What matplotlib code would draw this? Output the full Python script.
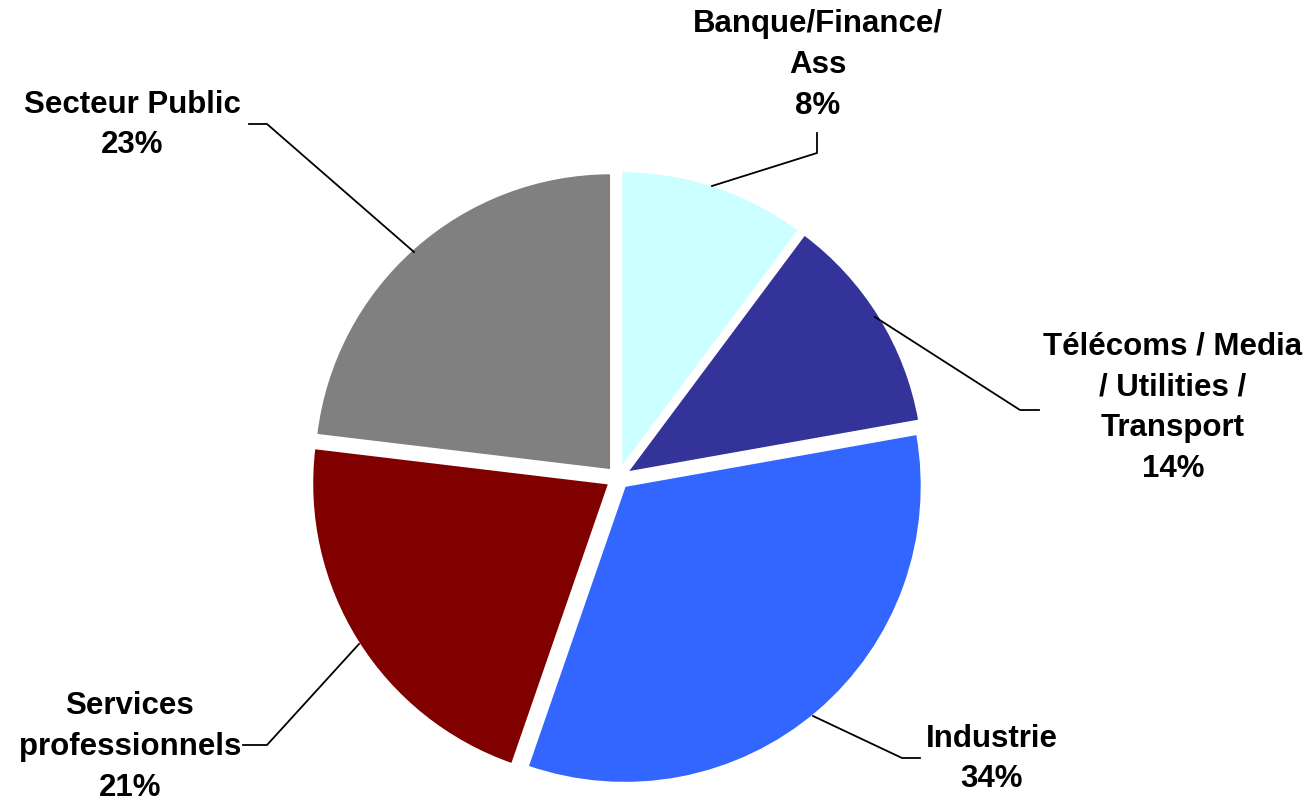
import matplotlib
matplotlib.use("Agg")
import matplotlib.pyplot as plt

# Sector shares (slice sizes as drawn) and the printed labels
sectors = ["Banque/Finance/\nAss", "Télécoms / Media\n/ Utilities /\nTransport",
           "Industrie", "Services\nprofessionnels", "Secteur Public"]
shares = [10.2, 12.0, 33.1, 21.6, 23.1]
pct_labels = ["8%", "14%", "34%", "21%", "23%"]
colors = ["#CCFFFF", "#333399", "#3366FF", "#800000", "#808080"]

W, H = 1310, 802
CX, CY, R = 618, 478, 297   # pie centre / radius in pixels


def px(x, y):
    # pixel position (top-left origin) -> data units (radius = 1)
    return (x - CX) / R, (CY - y) / R


plt.rcParams["font.family"] = ["Liberation Sans", "DejaVu Sans"]

fig = plt.figure(figsize=(W / 100, H / 100), dpi=100)
ax = fig.add_axes([0, 0, 1, 1])

ax.pie(shares, colors=colors, startangle=90, counterclock=False,
       explode=[0.035] * 5, radius=1, center=(0, 0),
       wedgeprops=dict(edgecolor="white", linewidth=1.5))

# pie() resets the limits, so set them afterwards
ax.set_xlim(-CX / R, (W - CX) / R)
ax.set_ylim(-(H - CY) / R, CY / R)
ax.axis("off")

# label text positions (centre of block) and leader lines, in pixels
label_pos = [(818, 65), (1173, 408), (992, 759), (130, 747), (132, 125)]
leaders = [
    [(712, 186), (817, 153), (817, 133)],
    [(875, 317), (1020, 410), (1039, 410)],
    [(813, 716), (902, 758), (920, 758)],
    [(359, 644), (267, 745), (243, 745)],
    [(414, 252), (267, 124), (249, 124)],
]

for name, pct, (lx, ly), pts in zip(sectors, pct_labels, label_pos, leaders):
    x, y = px(lx, ly)
    ax.text(x, y, name + "\n" + pct, ha="center", va="center",
            fontsize=22.5, fontweight="bold", linespacing=1.47)
    xs = [px(a, b)[0] for a, b in pts]
    ys = [px(a, b)[1] for a, b in pts]
    ax.plot(xs, ys, color="black", lw=1.3)

fig.savefig("out.png", dpi=100)
